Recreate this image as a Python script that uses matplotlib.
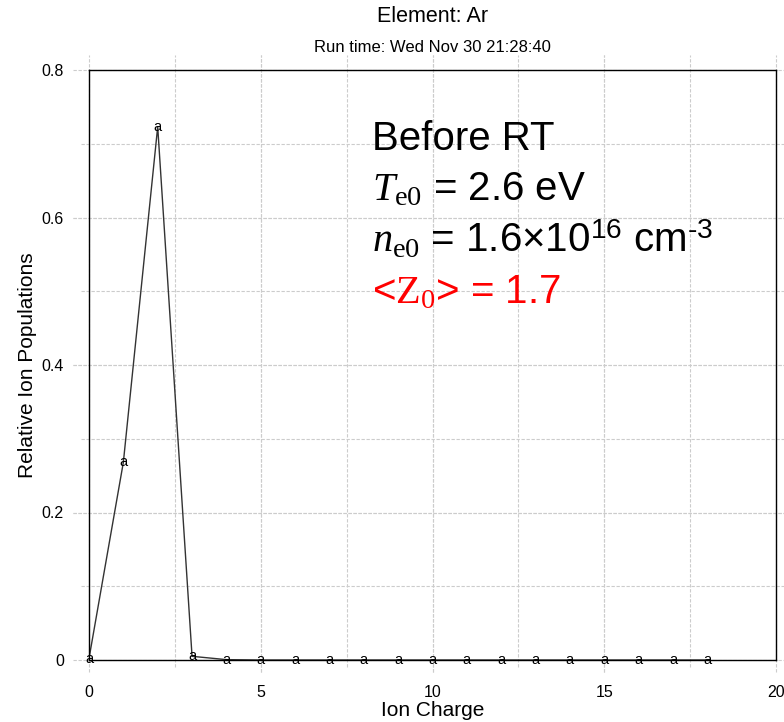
import matplotlib
matplotlib.use("Agg")
import matplotlib.pyplot as plt
import matplotlib.transforms as mtransforms

plt.rcParams["font.family"] = ["Liberation Sans", "DejaVu Sans"]
plt.rcParams["mathtext.fontset"] = "custom"
plt.rcParams["mathtext.rm"] = "Liberation Serif"
plt.rcParams["mathtext.it"] = "Liberation Serif:italic"
plt.rcParams["mathtext.sf"] = "Liberation Sans"

# ion charge states and their relative populations
charge = list(range(19))
population = [0.002, 0.268, 0.723, 0.005, 0.0005, 0.0, 0.0, 0.0, 0.0, 0.0,
              0.0, 0.0, 0.0, 0.0, 0.0, 0.0, 0.0, 0.0, 0.0]

x_ticks = [0, 5, 10, 15, 20]
y_ticks = [0, 0.2, 0.4, 0.6, 0.8]
x_grid = [2.5, 5, 7.5, 10, 12.5, 15, 17.5]
y_grid = [0.1, 0.2, 0.3, 0.4, 0.5, 0.6, 0.7]

GRID_COLOR = "#cccccc"
GRID_STYLE = (0, (3, 1.5))

fig = plt.figure(figsize=(7.84, 7.22), dpi=100)
ax = fig.add_axes([89 / 784, 62 / 722, 687 / 784, 590 / 722])

ax.set_xlim(0, 20)
ax.set_ylim(0, 0.8)
ax.set_xticks(x_ticks)
ax.set_yticks(y_ticks)
ax.set_xticklabels([str(t) for t in x_ticks])
ax.set_yticklabels(["0", "0.2", "0.4", "0.6", "0.8"])
ax.tick_params(length=0, labelsize=11.5, pad=18)
for s in ax.spines.values():
    s.set_linewidth(1.0)
    s.set_color("black")

# grid lines run a little past the frame, like the original program draws them
xt = mtransforms.blended_transform_factory(ax.transData, ax.transAxes)
yt = mtransforms.blended_transform_factory(ax.transAxes, ax.transData)
for gx in x_grid + x_ticks:
    ext = 0.020 if gx in x_ticks else 0.012
    ax.plot([gx, gx], [-ext, 1.025], transform=xt, color=GRID_COLOR,
            lw=0.8, ls=GRID_STYLE, clip_on=False, zorder=0)
for gy in y_grid + y_ticks:
    ext = 0.024 if gy in y_ticks else 0.012
    ax.plot([-ext, 1.012], [gy, gy], transform=yt, color=GRID_COLOR,
            lw=0.8, ls=GRID_STYLE, clip_on=False, zorder=0)

ax.plot(charge, population, color="#333333", lw=1.0, zorder=2)
for c, p in zip(charge, population):
    ax.text(c, p, "a", ha="center", va="center", fontsize=10.5, zorder=3)

ax.set_xlabel("Ion Charge", fontsize=15, labelpad=1)
ax.set_ylabel("Relative Ion Populations", fontsize=15, labelpad=3)

fig.text(433 / 784, 1 - 17 / 722, "Element: Ar", ha="center", va="center", fontsize=15.5)
fig.text(432 / 784, 1 - 47 / 722, "Run time: Wed Nov 30 21:28:40", ha="center", va="center",
         fontsize=12)

tx = 372 / 784
fig.text(tx, 1 - 150 / 722, "Before RT", fontsize=29, va="baseline")
fig.text(tx, 1 - 200 / 722, r"$T_{\mathrm{e0}}$ = 2.6 eV", fontsize=29, va="baseline")
fig.text(tx, 1 - 252 / 722, "$n_{\\mathrm{e0}}$ = 1.6×10$^{\\mathsf{16}}$ cm$^{\\mathsf{\u2010}\\mathsf{3}}$",
         fontsize=29, va="baseline")
fig.text(tx, 1 - 303 / 722, r"<$\mathrm{Z}_{\mathrm{0}}$> = 1.7", fontsize=29, va="baseline",
         color="#ff0000")

fig.savefig("out.png", dpi=100)
